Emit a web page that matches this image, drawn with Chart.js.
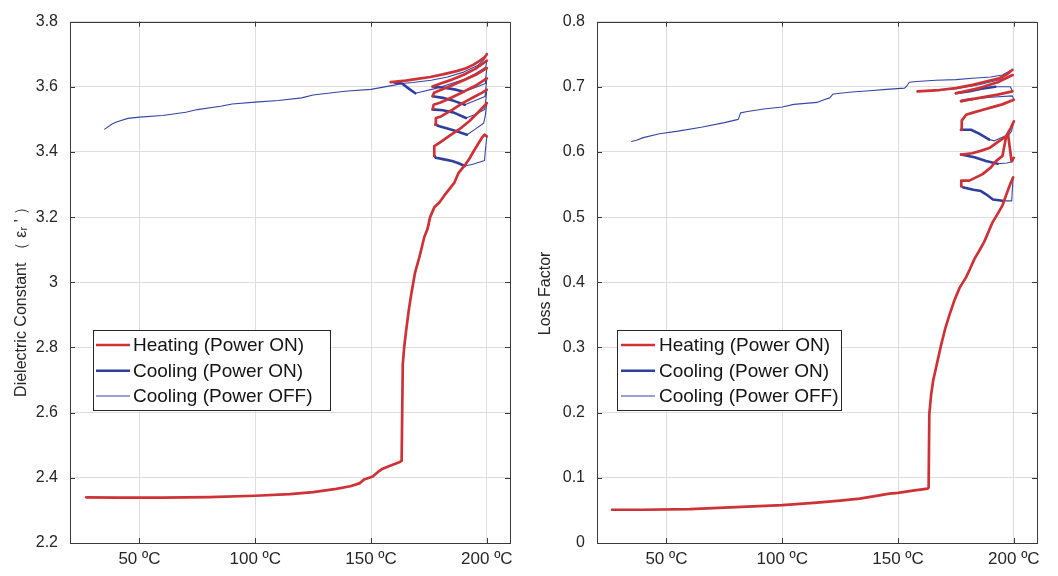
<!DOCTYPE html>
<html><head><meta charset="utf-8">
<script src="https://cdn.jsdelivr.net/npm/chart.js@4.4.1/dist/chart.umd.min.js"></script>
<style>
html,body{margin:0;padding:0;background:#fff;}
#wrap{position:relative;width:1058px;height:576px;overflow:hidden;}
canvas{position:absolute;top:0;}
</style></head><body>
<div id="wrap">
<canvas id="c1" width="525" height="576" style="left:0px"></canvas>
<canvas id="c2" width="533" height="576" style="left:525px"></canvas>
</div>
<script>
// ---------- shared axis data ----------
const tempTicks = [50, 100, 150, 200];
const dcTicks = [2.2, 2.4, 2.6, 2.8, 3.0, 3.2, 3.4, 3.6, 3.8];
const lfTicks = [0, 0.1, 0.2, 0.3, 0.4, 0.5, 0.6, 0.7, 0.8];
const seriesLabels = ['Heating (Power ON)', 'Cooling (Power ON)', 'Cooling (Power OFF)'];

// ---------- Dielectric constant (left) : segments of temperature / value ----------
const dcHeatT = [
  [27,40,60,80,100,115,125,135,141,145,147,150.7,153,155,158.5,162.2,163.2,163.7,164.3,165.1,166.2,167.3,169,170.9,172,173,174.4,175.5,177.3,179.5,181.5,183.8,186,187.8,190.7,192.5,194.3,196,197.8,199,200],
  [177.3,177.3,179.5,183.8,188,192.4,196.7,200],
  [177.7,178,180.2,185.2,189.5,194,198,200],
  [176.6,177,180,185,190,195,200],
  [176.6,177.2,180,185,190,195,200],
  [176.6,180,185,190,195,200],
  [158.5,165,170,175.6,181,187,191,194.3,197,199,200]
];
const dcHeatE = [
  [2.340,2.339,2.339,2.341,2.345,2.350,2.356,2.366,2.374,2.383,2.395,2.404,2.418,2.428,2.438,2.448,2.452,2.748,2.80,2.849,2.91,2.961,3.03,3.078,3.11,3.139,3.164,3.20,3.230,3.245,3.265,3.286,3.306,3.336,3.361,3.38,3.402,3.422,3.443,3.453,3.448],
  [3.388,3.418,3.428,3.449,3.469,3.494,3.525,3.550],
  [3.484,3.504,3.509,3.530,3.550,3.567,3.582,3.591],
  [3.530,3.545,3.552,3.568,3.585,3.603,3.626],
  [3.571,3.582,3.590,3.605,3.620,3.636,3.657],
  [3.601,3.610,3.622,3.637,3.655,3.680],
  [3.614,3.619,3.624,3.630,3.638,3.648,3.657,3.668,3.680,3.690,3.700]
];
const dcCoolOnT = [
  [190.5,187.5,185,181,178,177.3],
  [191.4,187.3,183,179.5,177.7],
  [191,186,181,177.7,176.6],
  [190.5,186,181,176.6],
  [190,186,181,176.6],
  [169.1,166,163.4,160]
];
const dcCoolOnE = [
  [3.357,3.366,3.372,3.378,3.382,3.388],
  [3.453,3.463,3.472,3.479,3.484],
  [3.504,3.520,3.528,3.530,3.530],
  [3.545,3.556,3.566,3.571],
  [3.585,3.592,3.598,3.601],
  [3.580,3.596,3.610,3.613]
];
const dcCoolOffT = [
  [200,199.3,199,194,190.5],
  [200,199.3,198.6,195,191.4],
  [200,199.4,199,195,191],
  [200,199.5,199.2,195,190.5],
  [200,199.6,199.4,195,190],
  [200,199.5,195,190,185,178,171,169.1],
  [200,199,196,190,183,176,168,163.4,160,150,140,135,125,120,110,100,90,85,75,70,60,50,45,40,38,35]
];
const dcCoolOffE = [
  [3.448,3.40,3.374,3.362,3.357],
  [3.550,3.51,3.488,3.47,3.453],
  [3.591,3.55,3.53,3.515,3.504],
  [3.626,3.59,3.57,3.558,3.545],
  [3.657,3.63,3.61,3.598,3.585],
  [3.680,3.66,3.640,3.622,3.611,3.595,3.583,3.580],
  [3.700,3.685,3.665,3.645,3.630,3.620,3.613,3.610,3.605,3.592,3.587,3.583,3.575,3.566,3.558,3.553,3.547,3.540,3.530,3.522,3.512,3.507,3.503,3.492,3.485,3.470]
];

// ---------- Loss factor (right) ----------
const lfHeatT = [
  [26.5,40,60,80,100,115,125,133.4,140,146.3,150,154.9,158,162.8,163.2,163.5,164.3,165.2,166.4,168.6,170.3,172.2,174.3,176.5,179.4,181,183,185,187.2,189,190.8,193,195.1,196.8,198.7,199.7],
  [177.5,177.3,180.8,186.5,190,192.3,195.1,196.6,197.5,199,200],
  [177.2,182,186,189.4,193,196.6,198.7,200],
  [177.2,177.5,179.4,182,186,190,195,200],
  [177.2,185.1,193,199.4],
  [175,185,193,199.5],
  [158.4,167.8,175,182.2,188,193.7,197,199.4]
];
const lfHeatL = [
  [0.051,0.051,0.052,0.055,0.058,0.062,0.065,0.068,0.072,0.0757,0.077,0.0797,0.081,0.0833,0.085,0.1976,0.228,0.25,0.269,0.304,0.328,0.35,0.372,0.391,0.408,0.42,0.436,0.448,0.462,0.477,0.492,0.505,0.518,0.535,0.553,0.561],
  [0.547,0.556,0.556,0.566,0.576,0.586,0.594,0.622,0.627,0.586,0.591],
  [0.596,0.598,0.602,0.606,0.615,0.624,0.637,0.647],
  [0.634,0.648,0.657,0.660,0.664,0.668,0.673,0.680],
  [0.678,0.683,0.688,0.693],
  [0.690,0.698,0.707,0.718],
  [0.693,0.695,0.698,0.703,0.708,0.713,0.719,0.726]
];
const lfCoolOnT = [
  [195.1,191,188,185.8,182.5,177.9],
  [193,188,183,177.2],
  [189.4,185,181.5,177.2],
  [182,180,177.2],
  [192,186,181,175]
];
const lfCoolOnL = [
  [0.525,0.527,0.535,0.540,0.542,0.546],
  [0.582,0.586,0.592,0.596],
  [0.619,0.628,0.634,0.634],
  [0.681,0.680,0.678],
  [0.700,0.697,0.693,0.690]
];
const lfCoolOffT = [
  [199.7,199.3,199.1,195.1],
  [200,199.5,197,193],
  [200,199,198,191.6,189.4],
  [200,199.4,190,182],
  [199.4,198.5,192],
  [199.5,195,185,175,165,160],
  [199.4,197,195.1,190,182.2,175,166.4,158,154.9,153.5,152.8,145,137.7,130,122,120.5,118,115,105,100,92,85,82,81,75,65,55,47,40,37,35]
];
const lfCoolOffL = [
  [0.561,0.540,0.525,0.525],
  [0.591,0.585,0.583,0.582],
  [0.647,0.632,0.627,0.617,0.619],
  [0.680,0.686,0.684,0.681],
  [0.693,0.700,0.700],
  [0.718,0.712,0.703,0.697,0.694,0.693],
  [0.726,0.722,0.718,0.715,0.713,0.711,0.710,0.708,0.707,0.700,0.698,0.696,0.694,0.692,0.689,0.683,0.680,0.676,0.673,0.669,0.666,0.662,0.660,0.650,0.645,0.638,0.632,0.628,0.622,0.618,0.616]
];

// ---------- helpers ----------
const RED = '#CE3236', BLUE = '#2E3F9D', BLUE_THIN = '#3446A6';
const FONT = '"Liberation Sans", Arial, "DejaVu Sans", sans-serif';

function toPoints(T, V) {
  const out = [];
  T.forEach((seg, i) => {
    if (i > 0) out.push({x: NaN, y: NaN});
    seg.forEach((t, j) => out.push({x: t, y: V[i][j]}));
  });
  return out;
}
function fmt(v) { return String(+Number(v).toFixed(2)); }

const framePlugin = {
  id: 'frame',
  afterDatasetsDraw(chart) {
    const {ctx, chartArea: a, scales: {x, y}} = chart;
    ctx.save();
    ctx.strokeStyle = '#3a3a3a';
    ctx.lineWidth = 1;
    ctx.strokeRect(Math.round(a.left) + 0.5, Math.round(a.top) + 0.5,
                   Math.round(a.right - a.left), Math.round(a.bottom - a.top));
    ctx.beginPath();
    x.ticks.forEach(t => {
      const px = Math.round(x.getPixelForValue(t.value)) + 0.5;
      ctx.moveTo(px, a.bottom); ctx.lineTo(px, a.bottom - 5);
      ctx.moveTo(px, a.top); ctx.lineTo(px, a.top + 5);
    });
    y.ticks.forEach(t => {
      const py = Math.round(y.getPixelForValue(t.value)) + 0.5;
      ctx.moveTo(a.left, py); ctx.lineTo(a.left + 5, py);
      ctx.moveTo(a.right, py); ctx.lineTo(a.right - 5, py);
    });
    ctx.stroke();
    ctx.restore();
  }
};

function legendPlugin(cfg) {
  return {
    id: 'boxlegend',
    afterDraw(chart) {
      const ctx = chart.ctx;
      ctx.save();
      ctx.fillStyle = '#fff';
      ctx.fillRect(cfg.x, cfg.y, cfg.w, cfg.h);
      ctx.strokeStyle = '#262626';
      ctx.lineWidth = 1;
      ctx.strokeRect(cfg.x + 0.5, cfg.y + 0.5, cfg.w, cfg.h);
      chart.data.datasets.forEach((ds, i) => {
        const yy = cfg.y + cfg.rows[i];
        ctx.strokeStyle = ds.borderColor;
        ctx.lineWidth = ds.borderWidth;
        ctx.beginPath();
        ctx.moveTo(cfg.x + cfg.l0, yy);
        ctx.lineTo(cfg.x + cfg.l1, yy);
        ctx.stroke();
        ctx.fillStyle = '#141414';
        ctx.font = '19px ' + FONT;
        ctx.textBaseline = 'middle';
        ctx.textAlign = 'left';
        ctx.fillText(ds.label, cfg.x + cfg.tx, yy + 1);
      });
      ctx.restore();
    }
  };
}

function makeChart(id, sets, yMin, yMax, yTicks, yTitle, yWidth, padRight, titlePad, legendCfg) {
  return new Chart(document.getElementById(id), {
    type: 'scatter',
    data: {
      datasets: [
        {label: seriesLabels[0], data: sets[0], borderColor: RED, backgroundColor: RED, borderWidth: 2.7, showLine: true, pointRadius: 0},
        {label: seriesLabels[1], data: sets[1], borderColor: BLUE, backgroundColor: BLUE, borderWidth: 2.6, showLine: true, pointRadius: 0},
        {label: seriesLabels[2], data: sets[2], borderColor: BLUE_THIN, backgroundColor: BLUE_THIN, borderWidth: 1.1, showLine: true, pointRadius: 0}
      ]
    },
    options: {
      responsive: false,
      animation: false,
      devicePixelRatio: 1,
      spanGaps: false,
      layout: {padding: {top: 18, right: padRight, left: 0, bottom: 0}},
      plugins: {legend: {display: false}, tooltip: {enabled: false}},
      elements: {line: {tension: 0, borderCapStyle: 'round', borderJoinStyle: 'round'}},
      scales: {
        x: {
          type: 'linear', min: 20, max: 210,
          afterBuildTicks: s => { s.ticks = tempTicks.map(v => ({value: v})); },
          afterFit: s => { s.height = 33; },
          grid: {color: '#dedede', drawTicks: false, lineWidth: 1},
          border: {display: false},
          ticks: {padding: 6, color: '#262626', font: {family: FONT, size: 17}, maxRotation: 0, autoSkip: false,
                  callback: v => v + ' ºC'}
        },
        y: {
          type: 'linear', min: yMin, max: yMax,
          afterBuildTicks: s => { s.ticks = yTicks.map(v => ({value: v})); },
          afterFit: s => { s.width = yWidth; },
          grid: {color: '#dedede', drawTicks: false, lineWidth: 1},
          border: {display: false},
          ticks: {padding: 12, color: '#262626', font: {family: FONT, size: 16}, callback: v => fmt(v)},
          title: {display: true, text: yTitle, color: '#262626', font: {family: FONT, size: 16},
                  padding: {top: titlePad, bottom: 0}}
        }
      }
    },
    plugins: [framePlugin, legendPlugin(legendCfg)]
  });
}

makeChart('c1',
  [toPoints(dcHeatT, dcHeatE), toPoints(dcCoolOnT, dcCoolOnE), toPoints(dcCoolOffT, dcCoolOffE)],
  2.2, 3.8, dcTicks, 'Dielectric Constant （ ε\u1D63 \' ）       ', 70, 15, 12.4,
  {x: 93, y: 330, w: 237, h: 80, rows: [15, 40.7, 66], l0: 3, l1: 37, tx: 40});

makeChart('c2',
  [toPoints(lfHeatT, lfHeatL), toPoints(lfCoolOnT, lfCoolOnL), toPoints(lfCoolOffT, lfCoolOffL)],
  0, 0.8, lfTicks, 'Loss Factor     ', 72, 21, 11.4,
  {x: 92, y: 330, w: 224, h: 80, rows: [15, 40.7, 66], l0: 4, l1: 38, tx: 42});
</script>
</body></html>
